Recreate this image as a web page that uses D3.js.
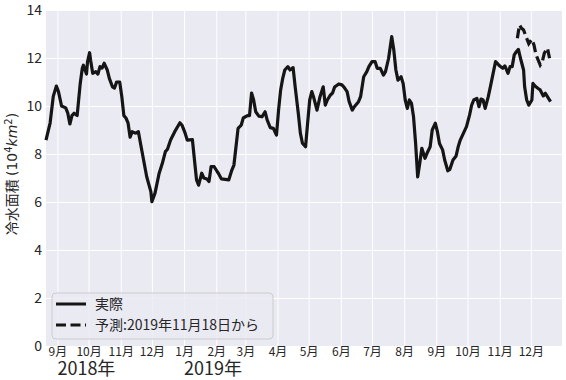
<!DOCTYPE html>
<html><head><meta charset="utf-8">
<script src="https://cdn.jsdelivr.net/npm/d3@7"></script>
<style>
body{margin:0;background:#fff;}
text{font-family:"Noto Sans CJK JP","Noto Sans",sans-serif;}
</style></head>
<body><svg id="c" width="566" height="380"></svg>
<script>
// ---- data ----
const actualDates = ["2018-08-21","2018-08-25","2018-08-28","2018-08-31","2018-09-02","2018-09-05","2018-09-09","2018-09-11","2018-09-13","2018-09-15","2018-09-17","2018-09-20","2018-09-23","2018-09-25","2018-09-26","2018-09-29","2018-09-30","2018-10-02","2018-10-03","2018-10-05","2018-10-08","2018-10-10","2018-10-12","2018-10-14","2018-10-16","2018-10-19","2018-10-21","2018-10-24","2018-10-26","2018-10-28","2018-10-31","2018-11-02","2018-11-04","2018-11-06","2018-11-08","2018-11-10","2018-11-12","2018-11-15","2018-11-18","2018-11-20","2018-11-23","2018-11-26","2018-11-30","2018-12-01","2018-12-04","2018-12-08","2018-12-11","2018-12-14","2018-12-16","2018-12-19","2018-12-23","2018-12-28","2018-12-30","2019-01-02","2019-01-04","2019-01-09","2019-01-11","2019-01-13","2019-01-15","2019-01-18","2019-01-20","2019-01-23","2019-01-25","2019-01-27","2019-01-30","2019-02-02","2019-02-03","2019-02-06","2019-02-13","2019-02-16","2019-02-18","2019-02-20","2019-02-22","2019-02-25","2019-02-27","2019-03-03","2019-03-05","2019-03-07","2019-03-09","2019-03-11","2019-03-14","2019-03-17","2019-03-20","2019-03-22","2019-03-25","2019-03-28","2019-03-31","2019-04-02","2019-04-04","2019-04-06","2019-04-08","2019-04-11","2019-04-13","2019-04-16","2019-04-18","2019-04-21","2019-04-23","2019-04-25","2019-04-28","2019-04-30","2019-05-02","2019-05-04","2019-05-06","2019-05-09","2019-05-12","2019-05-15","2019-05-17","2019-05-19","2019-05-22","2019-05-24","2019-05-26","2019-05-30","2019-06-02","2019-06-04","2019-06-07","2019-06-09","2019-06-12","2019-06-14","2019-06-18","2019-06-20","2019-06-23","2019-06-26","2019-06-28","2019-07-01","2019-07-04","2019-07-06","2019-07-09","2019-07-12","2019-07-14","2019-07-17","2019-07-19","2019-07-20","2019-07-22","2019-07-24","2019-07-26","2019-07-29","2019-07-31","2019-08-02","2019-08-04","2019-08-06","2019-08-08","2019-08-10","2019-08-12","2019-08-14","2019-08-16","2019-08-18","2019-08-21","2019-08-23","2019-08-26","2019-08-28","2019-08-31","2019-09-02","2019-09-04","2019-09-07","2019-09-09","2019-09-12","2019-09-14","2019-09-17","2019-09-20","2019-09-22","2019-09-24","2019-09-27","2019-09-30","2019-10-03","2019-10-05","2019-10-07","2019-10-10","2019-10-12","2019-10-14","2019-10-16","2019-10-18","2019-10-21","2019-10-23","2019-10-26","2019-10-28","2019-10-31","2019-11-02","2019-11-04","2019-11-06","2019-11-09","2019-11-11","2019-11-13","2019-11-15","2019-11-17","2019-11-19","2019-11-21","2019-11-24","2019-11-25","2019-11-27","2019-11-29","2019-12-02","2019-12-03","2019-12-05","2019-12-08","2019-12-10","2019-12-13","2019-12-15","2019-12-18","2019-12-20"];
const actualValues = [8.58,9.3,10.4,10.83,10.6,10.0,9.92,9.7,9.25,9.6,9.7,9.6,10.95,11.58,11.7,11.33,11.85,12.22,11.9,11.36,11.43,11.33,11.64,11.58,11.78,11.5,11.15,10.8,10.75,11.0,11.0,10.4,9.6,9.5,9.3,8.7,8.93,8.87,8.93,8.45,7.75,7.05,6.43,6.01,6.37,7.2,7.6,8.1,8.2,8.58,8.93,9.3,9.2,8.87,8.58,8.6,7.75,6.92,6.7,7.2,7.0,6.96,6.85,7.47,7.47,7.26,7.2,6.96,6.92,7.33,7.54,8.3,9.07,9.2,9.5,9.6,9.6,10.54,10.25,9.76,9.58,9.55,9.76,9.42,9.1,9.07,8.79,9.83,10.67,11.15,11.5,11.64,11.5,11.6,10.8,9.7,8.87,8.45,8.3,9.3,10.25,10.6,10.33,9.83,10.4,10.8,10.04,10.25,10.46,10.54,10.79,10.92,10.88,10.79,10.6,10.18,9.83,9.97,10.18,10.39,11.22,11.43,11.64,11.85,11.85,11.57,11.57,11.29,11.43,11.99,12.6,12.89,12.33,11.5,11.08,11.22,10.94,10.25,9.9,10.25,10.11,9.55,8.44,7.05,7.61,8.24,7.82,8.03,8.3,9.0,9.28,8.93,8.44,8.17,7.75,7.3,7.36,7.75,7.92,8.3,8.58,8.86,9.14,9.63,10.04,10.25,10.32,9.97,10.29,10.25,9.9,10.39,10.8,11.43,11.85,11.71,11.64,11.57,11.67,11.36,11.64,11.64,12.13,12.26,12.36,11.99,11.5,10.8,10.25,10.04,10.25,10.94,10.83,10.73,10.67,10.42,10.53,10.32,10.18];
const forecastDates = ["2019-11-18","2019-11-20","2019-11-22","2019-11-24","2019-11-27","2019-11-29","2019-12-02","2019-12-04","2019-12-06","2019-12-10","2019-12-12","2019-12-14","2019-12-17","2019-12-19"];
const forecastValues = [12.82,13.38,13.24,13.17,12.82,12.6,12.78,12.54,12.13,11.71,11.85,12.2,12.41,11.99];
const yTicks = [0,2,4,6,8,10,12,14];
const yearLabels = [["2018-09-01","2018年"],["2019-01-01","2019年"]];
const seriesNames = ["実際","予測:2019年11月18日から"];
const yLabelMain = "冷水面積 ";

// ---- chart ----
const parse = d3.utcParse("%Y-%m-%d");
const svg = d3.select("#c");
const L=46,R=562,T=10,B=346;
const x = d3.scaleUtc().domain([parse("2018-08-21"),parse("2019-12-31")]).range([L,R]);
const y = d3.scaleLinear().domain([0,14]).range([B,T]);
const ink="#262626";

svg.append("rect").attr("x",L).attr("y",T).attr("width",R-L).attr("height",B-T).attr("fill","#eaeaf2");

const months = d3.utcMonth.range(parse("2018-09-01"),parse("2019-12-02"));
// grid
svg.append("g").attr("transform",`translate(0,${B})`)
  .call(d3.axisBottom(x).tickValues(months).tickSize(-(B-T)).tickFormat(""))
  .call(g=>{g.select(".domain").remove();g.selectAll("line").attr("stroke","#fff").attr("stroke-width",1);});
svg.append("g").attr("transform",`translate(${L},0)`)
  .call(d3.axisLeft(y).tickValues(yTicks).tickSize(-(R-L)).tickFormat(""))
  .call(g=>{g.select(".domain").remove();g.selectAll("line").attr("stroke","#fff").attr("stroke-width",1);});

// axes labels
svg.append("g").attr("transform",`translate(0,${B})`)
  .call(d3.axisBottom(x).tickValues(months).tickSize(0).tickPadding(1.5).tickFormat(d=>(d.getUTCMonth()+1)+"月"))
  .call(g=>{g.select(".domain").remove();g.selectAll("text").attr("fill",ink).attr("font-size",12).style("font-family",'"Noto Sans CJK JP",sans-serif');});
svg.append("g").attr("transform",`translate(${L},0)`)
  .call(d3.axisLeft(y).tickValues(yTicks).tickSize(0).tickPadding(4))
  .call(g=>{g.select(".domain").remove();g.selectAll("text").attr("fill",ink).attr("font-size",14).style("font-family",'"Noto Sans CJK JP",sans-serif');});

svg.selectAll(".yr").data(yearLabels).join("text")
  .attr("x",d=>x(parse(d[0]))).attr("y",375).attr("fill",ink).attr("font-size",18).text(d=>d[1]);

const yl = svg.append("text").attr("transform",`translate(17,174) rotate(-90)`)
  .attr("text-anchor","middle").attr("fill",ink).attr("font-size",14);
yl.append("tspan").text(yLabelMain);
const dj = "'DejaVu Sans',sans-serif";
yl.append("tspan").style("font-family",dj).text("(10");
yl.append("tspan").style("font-family",dj).attr("font-size",10).attr("dy",-5).text("4");
yl.append("tspan").style("font-family",dj).attr("font-style","italic").attr("dy",5).text("km");
yl.append("tspan").style("font-family",dj).attr("font-size",10).attr("dy",-5).text("2");
yl.append("tspan").style("font-family",dj).attr("dy",5).text(")");

const line = d3.line().x(d=>x(d[0])).y(d=>y(d[1]));
const actual = actualDates.map((d,i)=>[parse(d),actualValues[i]]);
const fc = forecastDates.map((d,i)=>[parse(d),forecastValues[i]]);
svg.append("path").datum(actual).attr("d",line).attr("fill","none").attr("stroke","#151515").attr("stroke-width",3.2).attr("stroke-linejoin","round");
svg.append("path").datum(fc).attr("d",line).attr("fill","none").attr("stroke","#151515").attr("stroke-width",3.2).attr("stroke-dasharray","10,4.5");

// legend
const lg = svg.append("g");
lg.append("rect").attr("x",52).attr("y",293).attr("width",221).attr("height",46).attr("rx",4)
  .attr("fill","#eaeaf2").attr("fill-opacity",0.8).attr("stroke","#cccccc").attr("stroke-width",1);
[304,325].forEach((yy,i)=>{
  lg.append("line").attr("x1",56).attr("x2",86).attr("y1",yy).attr("y2",yy).attr("stroke","#151515").attr("stroke-width",3)
    .attr("stroke-dasharray",i?"10,4.5":null);
  lg.append("text").attr("x",95).attr("y",yy).attr("dy","0.35em").attr("fill",ink).attr("font-size",14).text(seriesNames[i]);
});
</script></body></html>
